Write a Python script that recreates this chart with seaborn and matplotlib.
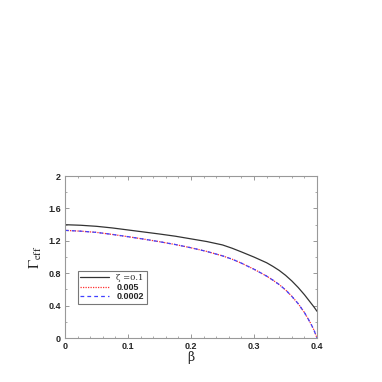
import pandas as pd
import numpy as np
import matplotlib
matplotlib.use("Agg")
import matplotlib.pyplot as plt
import seaborn as sns
from matplotlib.ticker import MultipleLocator, FuncFormatter

# values
beta_a = [0.0, 0.025, 0.05, 0.075, 0.10, 0.125, 0.15, 0.175, 0.20, 0.225, 0.25, 0.265, 0.28, 0.30,
          0.32, 0.33, 0.34, 0.35, 0.36, 0.37, 0.38, 0.39, 0.395, 0.40]
gamma_a = [1.400, 1.393, 1.380, 1.360, 1.335, 1.310, 1.285, 1.258, 1.225, 1.192, 1.150, 1.110, 1.064, 1.000,
           0.930, 0.885, 0.835, 0.775, 0.705, 0.625, 0.535, 0.435, 0.385, 0.330]

beta_b = [0.0, 0.025, 0.05, 0.075, 0.10, 0.125, 0.15, 0.175, 0.20, 0.225, 0.25, 0.265, 0.28, 0.30,
          0.32, 0.33, 0.34, 0.35, 0.36, 0.37, 0.38, 0.39, 0.395, 0.40]
gamma_b = [1.330, 1.320, 1.305, 1.280, 1.252, 1.222, 1.190, 1.155, 1.115, 1.070, 1.015, 0.975, 0.925, 0.850,
           0.765, 0.715, 0.660, 0.595, 0.515, 0.425, 0.315, 0.180, 0.100, 0.000]
gamma_c = [1.330, 1.320, 1.305, 1.280, 1.252, 1.222, 1.190, 1.155, 1.115, 1.070, 1.015, 0.975, 0.925, 0.850,
           0.765, 0.715, 0.660, 0.595, 0.515, 0.425, 0.315, 0.180, 0.100, 0.000]

labels = ["\u03b6 =0.1", "0.005", "0.0002"]

sns.set_style("ticks")
plt.rcParams['font.family'] = ['Liberation Sans', 'DejaVu Sans']
plt.rcParams['mathtext.fontset'] = 'stix'

fig = plt.figure(figsize=(3.82, 3.82), dpi=100)
ax = fig.add_axes([0.170, 0.115, 0.660, 0.424])

df_a = pd.DataFrame({'beta': beta_a, 'gamma': gamma_a})
df_b = pd.DataFrame({'beta': beta_b, 'gamma': gamma_b})
df_c = pd.DataFrame({'beta': beta_b, 'gamma': gamma_c})

sns.lineplot(data=df_a, x='beta', y='gamma', ax=ax, color='#333333', linewidth=0.9, label=labels[0])
sns.lineplot(data=df_b, x='beta', y='gamma', ax=ax, color='#ff3030', linewidth=0.9,
             linestyle=(0, (1, 1)), label=labels[1])
sns.lineplot(data=df_c, x='beta', y='gamma', ax=ax, color='#4040ff', linewidth=0.9,
             linestyle=(0, (3, 2.5)), label=labels[2])

ax.set_xlim(0, 0.4)
ax.set_ylim(0, 2)
ax.xaxis.set_major_locator(MultipleLocator(0.1))
ax.xaxis.set_minor_locator(MultipleLocator(0.02))
ax.yaxis.set_major_locator(MultipleLocator(0.4))
ax.yaxis.set_minor_locator(MultipleLocator(0.2))
fmt = FuncFormatter(lambda v, pos: '%g' % round(v, 3))
ax.xaxis.set_major_formatter(fmt)
ax.yaxis.set_major_formatter(fmt)
ax.tick_params(which='both', direction='in', top=True, right=True, color='#888888')
ax.tick_params(which='major', length=3, width=0.6, labelsize=6.5, pad=3)
ax.tick_params(which='minor', length=1.5, width=0.5)
for t in ax.get_xticklabels() + ax.get_yticklabels():
    t.set_fontweight('bold')
for s in ax.spines.values():
    s.set_color('#999999')
    s.set_linewidth(0.8)

ax.set_xlabel('\u03b2', family='DejaVu Serif', fontsize=9, labelpad=0)
ax.set_ylabel(r'$\Gamma_{\rm eff}$', fontsize=11, labelpad=3)

leg = ax.legend(loc='lower left', bbox_to_anchor=(0.05, 0.21), fontsize=6.5, frameon=True,
                fancybox=False, handlelength=3.2, handletextpad=0.8, borderpad=0.3,
                labelspacing=0.05, borderaxespad=0)
leg.get_frame().set_edgecolor('#555555')
leg.get_frame().set_linewidth(0.8)
texts = leg.get_texts()
texts[0].set_family('DejaVu Serif')
texts[0].set_fontsize(6)
texts[1].set_fontweight('bold')
texts[2].set_fontweight('bold')

fig.savefig('out.png', dpi=100)
